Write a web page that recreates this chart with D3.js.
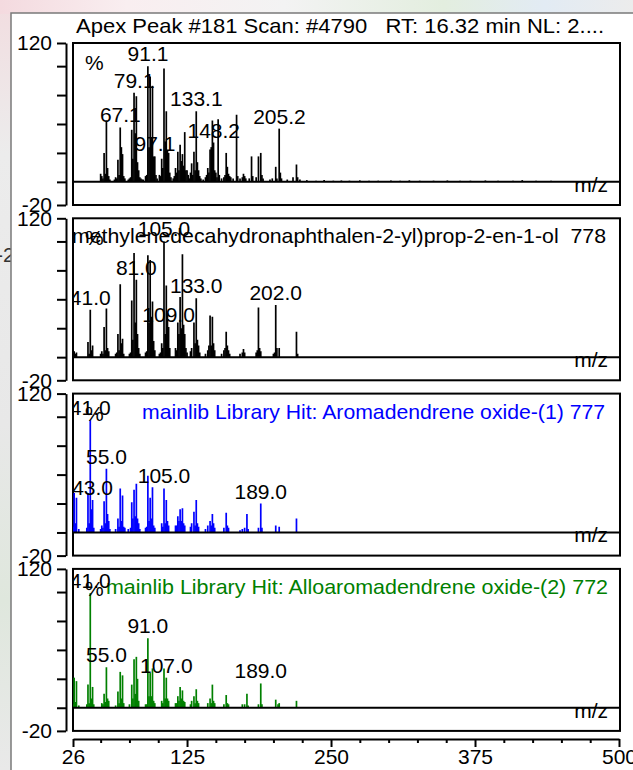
<!DOCTYPE html>
<html>
<head>
<meta charset="utf-8">
<script src="https://cdn.jsdelivr.net/npm/d3@7"></script>
<style>
  body { margin: 0; background: #fff; overflow: hidden; }
  svg text { font-family: "Liberation Sans", Arial, sans-serif; white-space: pre; }
</style>
</head>
<body>
<svg id="chart"></svg>
<script>
// ---- data: [m/z, relative intensity %] ----
const sample = [
  [50,7],[51,5],[52,3],[53,25],[54,7],[55,53],[56,12],[57,5],[58,2],
  [62,2],[63,4],[64,3],[65,19],[66,6],[67,47],[68,30],[69,24],[70,5],[71,3],
  [74,2],[75,3],[76,4],[77,45],[78,20],[79,77],[80,42],[81,74],[82,17],[83,10],[84,4],[85,3],
  [86,2],[87,2],[89,5],[90,6],[91,100],[92,30],[93,91],[94,38],[95,83],[96,22],[97,22],[98,6],[99,3],
  [101,6],[102,5],[103,20],[104,12],[105,98],[106,35],[107,61],[108,27],[109,25],[110,8],[111,4],
  [113,3],[114,5],[115,12],[116,8],[117,26],[118,10],[119,32],[120,18],[121,24],[122,14],[123,43],[124,10],[125,10],[126,6],[127,3],
  [128,8],[129,16],[130,6],[131,26],[132,10],[133,61],[134,17],[135,10],[136,5],[137,3],
  [139,2],[141,4],[142,6],[143,12],[144,8],[145,28],[146,30],[147,53],[148,34],[149,10],[150,8],[151,4],[152,54],[153,6],
  [155,3],[157,4],[158,6],[159,25],[160,13],[161,7],[162,5],[163,4],[165,3],[168,58],[169,5],
  [171,3],[173,4],[174,7],[175,5],[176,3],[179,3],[181,22],[182,5],[185,4],[187,22],[189,25],[190,6],[191,3],
  [197,2],[199,3],[202,13],[203,3],[205,46],[206,8],[207,3],
  [212,2],[217,4],[220,15],[221,4],[223,2],
  [229,1.5],[237,1],[244,1.5],[252,1],[259,1.2],[266,1],[275,1.3],[283,1],[291,1],[302,1.2],
  [310,1],[318,1.3],[327,1],[339,1],[351,1.2],[362,1],[371,1],[384,1.2],[395,1],[408,1],[416,1.5],[428,1],[441,1]
];
const sampleLabels = [67.1, 79.1, 91.1, 97.1, 133.1, 148.2, 205.2];

const reference = [
  [27,5],[28,3],[29,4],[39,13],[40,3],[41,41],[42,6],[43,10],
  [50,3],[51,5],[52,3],[53,26],[54,6],[55,42],[56,8],[57,5],
  [63,3],[64,4],[65,20],[66,6],[67,63],[68,12],[69,16],[70,3],
  [75,3],[76,4],[77,49],[78,15],[79,90],[80,30],[81,67],[82,20],[83,8],[84,3],
  [89,4],[90,5],[91,88],[92,30],[93,84],[94,35],[95,48],[96,14],[97,6],
  [101,3],[102,4],[103,12],[104,8],[105,100],[106,20],[107,62],[108,38],[109,26],[110,8],
  [115,8],[116,6],[117,30],[118,20],[119,52],[120,25],[121,89],[122,28],[123,20],[124,8],[125,4],
  [128,5],[129,8],[131,30],[132,12],[133,51],[134,15],[135,10],[136,4],
  [141,3],[143,6],[144,10],[145,36],[146,10],[147,35],[148,12],[149,6],
  [155,3],[157,6],[158,8],[159,22],[160,10],[161,6],[162,3],
  [171,3],[173,4],[174,7],[175,4],
  [185,4],[186,6],[187,43],[188,8],[189,5],
  [200,3],[201,4],[202,45],[203,8],[205,8],
  [220,22],[221,3]
];
const referenceLabels = [41.0, 81.0, 105.0, 109.0, 133.0, 202.0];

const hit1 = [
  [26,5],[27,34],[28,8],[29,30],[31,3],
  [38,4],[39,34],[40,8],[41,97],[42,20],[43,28],[44,4],
  [50,3],[51,6],[52,4],[53,27],[54,8],[55,55],[56,16],[57,10],[58,3],
  [63,3],[65,12],[66,5],[67,38],[68,10],[69,32],[70,5],[71,4],
  [74,3],[76,4],[77,26],[78,12],[79,37],[80,14],[81,42],[82,12],[83,8],[84,3],
  [89,4],[90,5],[91,49],[92,10],[93,30],[94,12],[95,39],[96,6],[97,4],
  [103,8],[104,5],[105,38],[106,8],[107,28],[108,10],[109,6],
  [115,6],[116,6],[117,14],[118,10],[119,20],[120,10],[121,21],[122,8],[123,6],
  [128,5],[129,8],[131,18],[132,6],[133,28],[134,8],[135,5],
  [141,3],[143,6],[145,10],[146,6],[147,16],[148,8],[149,4],
  [157,4],[159,17],[160,6],[161,4],
  [171,2],[173,3],[175,4],[177,16],[178,3],
  [187,4],[189,25],[190,4],
  [202,6],[205,5],[220,12]
];
const hit1Labels = [41.0, 43.0, 55.0, 105.0, 189.0];

const hit2 = [
  [26,3],[27,26],[28,5],[29,23],[31,2],
  [38,3],[39,20],[40,4],[41,99],[42,8],[43,18],[44,3],
  [51,4],[52,3],[53,12],[54,5],[55,35],[56,8],[57,6],
  [63,2],[65,14],[66,4],[67,31],[68,8],[69,28],[70,4],
  [75,3],[77,20],[78,8],[79,42],[80,12],[81,44],[82,25],[83,6],
  [89,3],[90,3],[91,60],[92,10],[93,30],[94,10],[95,34],[96,6],[97,4],
  [103,6],[104,4],[105,34],[106,8],[107,26],[108,8],[109,6],
  [115,4],[116,4],[117,10],[118,6],[119,18],[120,8],[121,15],[122,6],[123,5],
  [128,3],[129,6],[131,10],[132,4],[133,16],[134,6],[135,4],
  [143,4],[145,8],[146,4],[147,20],[148,6],[149,4],
  [157,3],[159,11],[160,4],[161,3],
  [173,3],[175,3],[177,12],[178,2],
  [187,3],[189,21],[190,3],
  [202,7],[204,3],[205,4],[220,6]
];
const hit2Labels = [41.0, 55.0, 91.0, 107.0, 189.0];

const titles = [
  "Apex Peak #181 Scan: #4790   RT: 16.32 min NL: 2....",
  "methylenedecahydronaphthalen-2-yl)prop-2-en-1-ol  778",
  "mainlib Library Hit: Aromadendrene oxide-(1) 777",
  "mainlib Library Hit: Alloaromadendrene oxide-(2) 772"
];
const xTicks = [26, 50, 75, 100, 125, 150, 175, 200, 225, 250, 275, 300, 325, 350, 375, 400, 425, 450, 475, 500];
const xTickLabels = [26, 125, 250, 375, 500];
const yTicks = [120, 100, 75, 50, 25, 0, -20];
const yTickLabels = [120, -20];

const spectra = [sample, reference, hit1, hit2];
const peakLabels = [sampleLabels, referenceLabels, hit1Labels, hit2Labels];
const colors = ["#000000", "#000000", "#0000ff", "#008000"];

// ---- layout ----
const width = 633, height = 770;
const plot = { left: 73, right: 620, top: 43, height: 162, step: 175.3 };
const fontSize = 21;
const formatMz = d3.format(".1f");
// where each title sits: [anchor, x, width it spans in the picture]
const titleBoxes = [["start", 76, 528], ["end", 606, 534], ["end", 605, 463], ["end", 608, 502]];

const svg = d3.select("#chart")
    .attr("width", width)
    .attr("height", height);

const defs = svg.append("defs");

// blurred desktop behind the window
const topGrad = defs.append("linearGradient").attr("id", "topGrad");
[["0%", "#f4dadf"], ["20%", "#f9eef0"], ["45%", "#f3f3f3"], ["70%", "#e3eedf"], ["86%", "#e2ebf4"], ["100%", "#ececec"]]
    .forEach(([o, c]) => topGrad.append("stop").attr("offset", o).attr("stop-color", c));
const leftGrad = defs.append("linearGradient").attr("id", "leftGrad")
    .attr("x1", 0).attr("x2", 0).attr("y1", 0).attr("y2", 1);
[["0%", "#f2dde0"], ["20%", "#ececec"], ["55%", "#e8e8e8"], ["78%", "#dfe7dd"], ["100%", "#e9e9e9"]]
    .forEach(([o, c]) => leftGrad.append("stop").attr("offset", o).attr("stop-color", c));

svg.append("rect").attr("width", width).attr("height", height).attr("fill", "url(#leftGrad)");
svg.append("rect").attr("width", width).attr("height", 14).attr("fill", "url(#topGrad)");
svg.append("text")
    .attr("x", -4).attr("y", 262)
    .attr("font-size", fontSize).attr("fill", "#333")
    .text("-2");

svg.append("rect")
    .attr("x", 11).attr("y", 13)
    .attr("width", 700).attr("height", 800)
    .attr("fill", "#fff")
    .attr("stroke", "#7a7a7a")
    .attr("stroke-width", 1.5);

const xScale = d3.scaleLinear()
    .domain([26, 500])
    .range([plot.left, plot.right - 1]);

spectra.forEach((data, i) => {
    const top = plot.top + i * plot.step;
    const bottom = top + plot.height;
    const yScale = d3.scaleLinear()
        .domain([-20, 120])
        .range([bottom, top]);

    defs.append("clipPath").attr("id", `clip${i}`)
        .append("rect")
        .attr("x", plot.left).attr("y", top)
        .attr("width", plot.right - plot.left).attr("height", plot.height);

    const g = svg.append("g");

    // y axis
    const yAxis = g.append("g")
        .attr("class", "axis y-axis")
        .attr("transform", "translate(66,0)")
        .call(d3.axisLeft(yScale)
            .tickValues(yTicks)
            .tickSize(9)
            .tickSizeOuter(0)
            .tickPadding(5)
            .tickFormat(d => yTickLabels.includes(d) ? d : ""));
    yAxis.selectAll("path, line").attr("stroke", "#000").attr("stroke-width", 2);
    yAxis.selectAll("text")
        .attr("font-size", fontSize)
        .attr("font-family", "Liberation Sans, Arial, sans-serif")
        .attr("fill", "#000");

    // frame
    g.append("rect")
        .attr("x", plot.left).attr("y", top)
        .attr("width", plot.right - plot.left).attr("height", plot.height)
        .attr("fill", "none")
        .attr("stroke", "#000")
        .attr("stroke-width", 2);

    const inner = g.append("g").attr("clip-path", `url(#clip${i})`);

    // peaks
    inner.selectAll("line.peak")
        .data(data)
        .join("line")
        .attr("class", "peak")
        .attr("x1", d => xScale(d[0]))
        .attr("x2", d => xScale(d[0]))
        .attr("y1", yScale(0))
        .attr("y2", d => yScale(d[1]))
        .attr("stroke", colors[i])
        .attr("stroke-width", 1.7);

    // zero line
    inner.append("line")
        .attr("x1", plot.left).attr("x2", plot.right)
        .attr("y1", yScale(0)).attr("y2", yScale(0))
        .attr("stroke", "#000")
        .attr("stroke-width", 2);

    // title above (first) or inside the panel
    const [anchor, tx, tw] = titleBoxes[i];
    (i === 0 ? g : inner).append("text")
        .attr("x", tx)
        .attr("y", i === 0 ? top - 10 : top + 25)
        .attr("text-anchor", anchor)
        .attr("font-size", fontSize)
        .attr("textLength", tw)
        .attr("lengthAdjust", "spacingAndGlyphs")
        .attr("fill", colors[i])
        .text(titles[i]);

    // percent sign
    inner.append("text")
        .attr("x", 85)
        .attr("y", top + 27)
        .attr("font-size", fontSize)
        .text("%");

    // peak labels
    const lookup = new Map(data.map(d => [d[0], d[1]]));
    inner.selectAll("text.peak-label")
        .data(peakLabels[i])
        .join("text")
        .attr("class", "peak-label")
        .attr("x", d => xScale(d))
        .attr("y", d => yScale(lookup.get(Math.round(d)) || 0) - 5)
        .attr("text-anchor", "middle")
        .attr("font-size", fontSize)
        .attr("fill", "#000")
        .text(d => formatMz(d));

    // m/z tag
    inner.append("text")
        .attr("x", 608)
        .attr("y", yScale(0) + 10)
        .attr("text-anchor", "end")
        .attr("font-size", fontSize)
        .text("m/z");
});

// x axis
const xAxis = svg.append("g")
    .attr("class", "axis x-axis")
    .attr("transform", "translate(0,739)")
    .call(d3.axisBottom(xScale)
        .tickValues(xTicks)
        .tickSize(4)
        .tickSizeOuter(0)
        .tickPadding(6)
        .tickFormat(d => xTickLabels.includes(d) ? d : ""));
xAxis.selectAll("path, line").attr("stroke", "#000").attr("stroke-width", 2);
xAxis.selectAll(".tick line").attr("y2", d => xTickLabels.includes(d) ? 8 : 4);
xAxis.selectAll("text")
    .attr("font-size", fontSize)
    .attr("font-family", "Liberation Sans, Arial, sans-serif")
    .attr("fill", "#000");
</script>
</body>
</html>
